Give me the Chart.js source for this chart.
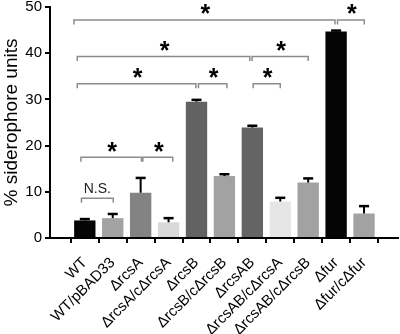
<!DOCTYPE html>
<html>
<head>
<meta charset="utf-8">
<script src="https://cdn.jsdelivr.net/npm/chart.js@4"></script>
<style>
html,body{margin:0;padding:0;background:#fff;}
#wrap{width:400px;height:334px;}
</style>
</head>
<body>
<div id="wrap"><canvas id="c" width="400" height="334"></canvas></div>
<script>
// ---- data ----
const categories = ['WT','WT/pBAD33','\u0394rcsA','\u0394rcsA/c\u0394rcsA','\u0394rcsB','\u0394rcsB/c\u0394rcsB','\u0394rcsAB','\u0394rcsAB/c\u0394rcsA','\u0394rcsAB/c\u0394rcsB','\u0394fur','\u0394fur/c\u0394fur'];
const meanValues = [3.8, 4.3, 9.8, 3.4, 29.5, 13.4, 23.9, 7.9, 12.0, 44.7, 5.3];
const errorTop   = [4.1, 5.2, 13.0, 4.3, 29.9, 13.8, 24.3, 8.7, 12.9, 44.9, 6.9];
const yTicks = [0, 10, 20, 30, 40, 50];
// significance brackets (x in category index units, y in data units)
const bracketFrom  = [-0.39, 9.05, -0.27, 5.99, -0.27, 4.07, 6.03, -0.14, 2.08, -0.12];
const bracketTo    = [8.96, 10.01, 5.91, 8.00, 3.98, 5.09, 7.00, 2.03, 3.15, 1.02];
const bracketY     = [47.2, 47.2, 39.3, 39.3, 33.4, 33.4, 33.4, 17.5, 17.5, 8.6];
const bracketLabel = ['*','*','*','*','*','*','*','*','*','N.S.'];

// ---- styles ----
const barColors = ['#050505','#a3a3a3','#838383','#d9d9d9','#626262','#a2a2a2','#646464','#e6e6e6','#a2a2a2','#050505','#a2a2a2'];
const FONT = '"Liberation Sans", Arial, Helvetica, sans-serif';

const overlay = {
  id: 'overlay',
  afterDatasetsDraw(chart) {
    const ctx = chart.ctx;
    const xs = chart.scales.x, ys = chart.scales.y;
    ctx.save();
    // error bars
    ctx.strokeStyle = '#000';
    ctx.lineCap = 'butt';
    meanValues.forEach((v, i) => {
      const x = xs.getPixelForValue(i);
      const y0 = ys.getPixelForValue(v);
      const y1 = ys.getPixelForValue(errorTop[i]);
      ctx.lineWidth = 2;
      ctx.beginPath();
      ctx.moveTo(x, y0);
      ctx.lineTo(x, y1);
      ctx.stroke();
      ctx.lineWidth = 2.5;
      ctx.beginPath();
      ctx.moveTo(x - 5, y1);
      ctx.lineTo(x + 5, y1);
      ctx.stroke();
    });
    // brackets
    ctx.strokeStyle = '#8c8c8c';
    ctx.lineWidth = 1.5;
    bracketFrom.forEach((f, i) => {
      const xa = xs.getPixelForValue(f);
      const xb = xs.getPixelForValue(bracketTo[i]);
      const y = ys.getPixelForValue(bracketY[i]);
      ctx.beginPath();
      ctx.moveTo(xa, y + 4.5);
      ctx.lineTo(xa, y);
      ctx.lineTo(xb, y);
      ctx.lineTo(xb, y + 4.5);
      ctx.stroke();
      const cx = (xa + xb) / 2;
      const lab = bracketLabel[i];
      ctx.fillStyle = '#000';
      ctx.textAlign = 'center';
      ctx.textBaseline = 'alphabetic';
      if (lab === '*') {
        ctx.font = 'bold 25px ' + FONT;
        const m = ctx.measureText(lab);
        const asc = m.actualBoundingBoxAscent, desc = m.actualBoundingBoxDescent;
        const targetCenter = y - 10.5;
        const base = targetCenter + (asc - desc) / 2;
        ctx.fillText(lab, cx + 1, base);
      } else {
        ctx.font = '14px ' + FONT;
        ctx.fillStyle = '#222';
        ctx.fillText(lab, cx, y - 5);
      }
    });
    ctx.restore();
  }
};

new Chart(document.getElementById('c'), {
  type: 'bar',
  data: {
    datasets: [{
      data: meanValues.map((v, i) => ({x: i, y: v})),
      backgroundColor: barColors,
      borderWidth: 0,
      categoryPercentage: 1,
      barPercentage: 0.765
    }]
  },
  options: {
    responsive: false,
    animation: false,
    devicePixelRatio: 1,
    layout: {padding: {top: 7, right: 2, left: 0, bottom: 0}},
    plugins: {legend: {display: false}, tooltip: {enabled: false}},
    scales: {
      x: {
        type: 'linear',
        min: -0.68,
        max: 10.65,
        afterBuildTicks: s => { s.ticks = categories.map((c, i) => ({value: i})); },
        afterFit: s => { s.height = 96; s.paddingLeft = 0; s.paddingRight = 0; },
        border: {display: true, color: '#000', width: 2},
        grid: {display: true, drawOnChartArea: false, drawTicks: true, tickLength: 5, color: '#000', lineWidth: 2},
        ticks: {
          autoSkip: false,
          maxRotation: 45,
          minRotation: 45,
          padding: 11,
          color: '#000',
          font: {family: FONT, size: 15},
          callback: v => categories[v]
        }
      },
      y: {
        min: 0,
        max: 50,
        afterBuildTicks: s => { s.ticks = yTicks.map(v => ({value: v})); },
        afterFit: s => { s.width = 50; s.paddingTop = 0; s.paddingBottom = 0; },
        border: {display: true, color: '#000', width: 2},
        grid: {display: true, drawOnChartArea: false, drawTicks: true, tickLength: 5, color: '#000', lineWidth: 2},
        ticks: {color: '#000', padding: 3, font: {family: FONT, size: 15}},
        title: {display: true, text: '% siderophore units', color: '#000', font: {family: FONT, size: 19, lineHeight: 1.2}, padding: {top: 0, bottom: 0}}
      }
    }
  },
  plugins: [overlay]
});
</script>
</body>
</html>
